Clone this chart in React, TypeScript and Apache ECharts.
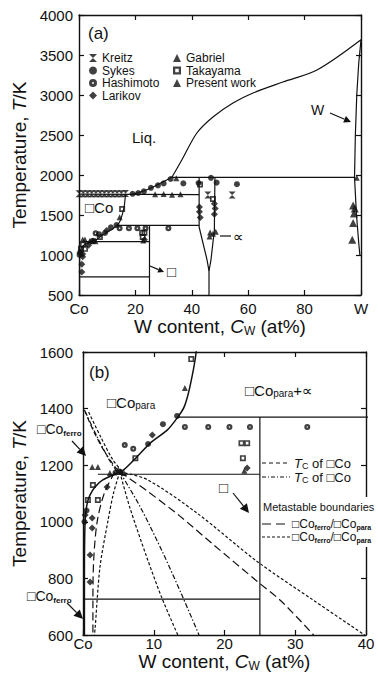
import React, { useEffect, useRef } from "react";
import * as echarts from "echarts";

const FONT = "'Liberation Sans', Arial, 'DejaVu Sans', sans-serif";
const INK = "#111";

// ---------- tick labels ----------
const A_X_LABELS: Record<number, string> = { 0: "Co", 20: "20", 40: "40", 60: "60", 80: "80", 100: "W" };
const B_X_LABELS: Record<number, string> = { 0: "Co", 10: "10", 20: "20", 30: "30", 40: "40" };

// ---------- phase boundaries (C_W at%, T K) ----------
const EUTECTIC = [[0, 1760], [42.6, 1755]];
const LIQUIDUS_LOW = [[19, 1758], [24, 1815], [29, 1900], [33, 1975]];
const LIQUIDUS_HIGH = [[33, 1975], [36.5, 2190], [41.8, 2525], [47.5, 2725], [54.6, 2900], [61.7, 3025], [72.3, 3162], [84.4, 3312], [100, 3690]];
const PERITECTIC = [[33, 1970], [97.7, 1970]];
const W_SOLIDUS = [[100, 3690], [99.2, 3400], [98.5, 3000], [98, 2500], [97.7, 1970], [98.4, 1500], [99.2, 1150], [99.6, 1000]];
const MU_LEFT = [[42.6, 1970], [42.6, 1350], [45.4, 940], [46.1, 800]];
const MU_RIGHT = [[48.2, 1970], [48, 1310], [46.8, 940], [46.1, 800]];
const MU_STEM = [[46.1, 800], [46.1, 500]];
const CO_SOLVUS = [[16.5, 1760], [16, 1600], [15.1, 1476], [14.3, 1406], [13.4, 1370], [11.9, 1324], [9.5, 1278], [7.6, 1229], [5.7, 1183], [2.8, 1148], [1.7, 1123], [1, 1095], [0.6, 1066], [0.3, 1006], [0.2, 800], [0.2, 500]];
const LINE_1370 = [[13.4, 1370], [42.6, 1370]];
const LINE_1168 = [[2.1, 1168], [25, 1168]];
const LINE_727 = [[0, 727], [25, 727]];
const CO3W = [[25, 500], [25, 1370]];

// magnetic / metastable boundaries (panel b)
const TC_ALPHA = [[0.2, 1395], [1.5, 1320], [3, 1250], [4.5, 1195], [5.2, 1176]];
const TC_EPS = [[0.3, 1390], [2, 1300], [3.8, 1215], [4.8, 1178]];
const MS_UP = [[0.8, 1388], [2.5, 1300], [4.2, 1220], [5.6, 1176]];
const MS_1 = [[5.2, 1176], [6.6, 1052], [9.0, 876], [11.1, 734], [13.4, 600]];
const MS_2 = [[5.2, 1176], [8.1, 1052], [11.3, 890], [14.1, 734], [16.4, 600]];
const MS_3 = [[5.2, 1176], [9, 1110], [13.7, 1020], [18.4, 920], [24.6, 790], [28, 720], [32.6, 600]];
const MS_4 = [[5.2, 1176], [9, 1150], [16.1, 1031], [24.6, 860], [32.5, 724], [39.8, 600]];
const MS_5 = [[5.2, 1176], [4.3, 1100], [3.5, 1000], [2.4, 840], [1.7, 620], [1.6, 600]];
const MS_6 = [[4.5, 1176], [3, 1100], [2, 1000], [1.5, 860], [1.4, 700], [1.4, 600]];

// ---------- experimental points ----------
const KREITZ = [[0, 1765], [1.5, 1765], [3, 1765], [4.5, 1765], [6, 1765], [7.5, 1765], [9, 1765], [10.5, 1765], [12, 1765], [13.5, 1765], [15, 1765], [16.5, 1768], [45.7, 1750], [54.3, 1750]];
const SYKES = [[19, 1765], [21, 1775], [23, 1795], [25.5, 1840], [28, 1870], [30, 1895], [32.5, 1950], [37, 1895], [42.4, 1900], [46.8, 1965], [48.8, 1905], [56, 1885], [13.3, 1374], [11.3, 1345], [9.2, 1275], [4.6, 1174], [5.3, 1176], [0.2, 1000], [0.5, 1040]];
const HASHIMOTO = [[5.9, 1271], [7.1, 1258], [14.4, 1335], [17.7, 1335], [20.7, 1335], [23.6, 1335], [31.7, 1335]];
const LARIKOV = [[1.3, 1013], [1.3, 978], [1.0, 883], [1.0, 787], [3.4, 1123], [9.8, 1307], [23.2, 1190], [0.3, 1024], [42.7, 1600], [42.7, 1540], [43, 1470], [48, 1640], [48.3, 1580], [48, 1510]];
const GABRIEL = [[97.2, 1620], [97.8, 1580], [97.5, 1520], [97.2, 1400], [96.9, 1190]];
const TAKAYAMA = [[15.3, 1575], [7.4, 1225], [1.4, 1130], [0.7, 1077], [2.1, 1077], [22.6, 1225], [23.2, 1278], [22.4, 1278], [42.9, 1880], [47.5, 1700]];
const PRESENT = [[14.4, 1473], [2.1, 1194], [1.3, 1194], [3.8, 1172], [5.8, 1172], [5, 1185], [22.8, 1180], [46.5, 1280], [47.5, 1265], [48.5, 1290], [46.3, 1230], [27, 1760], [30, 1762], [33, 1752], [36, 1760], [98.5, 1965], [34.5, 1960]];

const HOURGLASS = "path://M0,0L10,0L0,10L10,10Z";
const RING = "path://M5,0A5,5,0,1,1,5,10A5,5,0,1,1,5,0ZM5,3.8A1.2,1.2,0,1,0,5,6.2A1.2,1.2,0,1,0,5,3.8Z";
const OPEN_SQ = "path://M0,0H10V10H0ZM2.8,2.8V7.2H7.2V2.8Z";

const SOURCES = [
  { name: "Kreitz", data: KREITZ, symbol: HOURGLASS, size: 7 },
  { name: "Sykes", data: SYKES, symbol: "circle", size: 6 },
  { name: "Hashimoto", data: HASHIMOTO, symbol: RING, size: 6 },
  { name: "Larikov", data: LARIKOV, symbol: "diamond", size: 7 },
  { name: "Gabriel", data: GABRIEL, symbol: "triangle", size: 8 },
  { name: "Takayama", data: TAKAYAMA, symbol: OPEN_SQ, size: 6 },
  { name: "Present work", data: PRESENT, symbol: "triangle", size: 6 },
];

function lineSeries(data: number[][], g: number, type: any = "solid", width = 1.2, smooth: number | boolean = false) {
  return {
    type: "line",
    data,
    xAxisIndex: g * 2,
    yAxisIndex: g * 2,
    showSymbol: false,
    symbol: "none",
    smooth,
    silent: true,
    z: 3,
    lineStyle: { color: INK, width, type },
  };
}

function arrow(x1: number, y1: number, x2: number, y2: number, head = 7, w = 3.5) {
  const a = Math.atan2(y2 - y1, x2 - x1);
  const bx = x2 - head * Math.cos(a);
  const by = y2 - head * Math.sin(a);
  const px = -Math.sin(a) * w;
  const py = Math.cos(a) * w;
  return [
    { type: "line", z: 100, shape: { x1, y1, x2: bx, y2: by }, style: { stroke: INK, lineWidth: 1.2 } },
    { type: "polygon", z: 100, shape: { points: [[x2, y2], [bx + px, by + py], [bx - px, by - py]] }, style: { fill: INK } },
  ];
}

function txt(x: number, y: number, text: string, size: number, extra: any = {}) {
  return {
    type: "text",
    x,
    y,
    z: 100,
    style: { text, fontSize: size, fontFamily: FONT, fill: INK, align: "left", verticalAlign: "middle", ...extra },
  };
}

function sub(main: number, s: number, lh: number) {
  return {
    m: { fontSize: main, fontFamily: FONT, fill: INK, lineHeight: lh },
    i: { fontSize: main, fontFamily: FONT, fill: INK, lineHeight: lh, fontStyle: "italic" },
    s: { fontSize: s, fontFamily: FONT, fill: INK, verticalAlign: "bottom" },
    b: { fontSize: s, fontFamily: FONT, fill: INK, verticalAlign: "bottom", fontWeight: "bold" },
  };
}

function legLine(x1: number, x2: number, y: number, dash: number[]) {
  return { type: "line", z: 100, shape: { x1, y1: y, x2, y2: y }, style: { stroke: INK, lineWidth: 1.2, lineDash: dash } };
}

const axisBase = {
  type: "value",
  axisLine: { show: true, onZero: false, lineStyle: { color: INK, width: 1.4 } },
  axisTick: { show: true, inside: true, length: 5, lineStyle: { color: INK, width: 1.2 } },
  splitLine: { show: false },
};

const nameRich = {
  n: { fontSize: 19, fontFamily: FONT, color: INK, lineHeight: 22 },
  i: { fontSize: 19, fontFamily: FONT, color: INK, lineHeight: 22, fontStyle: "italic" },
  s: { fontSize: 12, fontFamily: FONT, color: INK, verticalAlign: "bottom" },
};

export default function App() {
  const ref = useRef<HTMLDivElement>(null);
  useEffect(() => {
    if (!ref.current) return;
    const chart = echarts.init(ref.current, null, { renderer: "svg" });
    const labelStyle = { color: INK, fontSize: 15, fontFamily: FONT };
    const plain = (v: number) => String(v);

    const series: any[] = [];
    // panel a boundaries
    [EUTECTIC, PERITECTIC, MU_LEFT, MU_RIGHT, MU_STEM, W_SOLIDUS, LINE_1370, LINE_1168, LINE_727, CO3W].forEach((d) =>
      series.push(lineSeries(d, 0))
    );
    series.push(lineSeries(LIQUIDUS_LOW, 0, "solid", 1.2, 0.3));
    series.push(lineSeries(LIQUIDUS_HIGH, 0, "solid", 1.2, 0.3));
    series.push(lineSeries(CO_SOLVUS, 0, "solid", 1.2, 0.2));
    // panel b boundaries
    [LINE_1370, LINE_1168, LINE_727, CO3W].forEach((d) => series.push(lineSeries(d, 1)));
    series.push(lineSeries(CO_SOLVUS, 1, "solid", 1.5, 0.2));
    series.push(lineSeries(TC_ALPHA, 1, [5, 3], 1.2, 0.3));
    series.push(lineSeries(TC_EPS, 1, [5, 2, 1.5, 2], 1.2, 0.3));
    series.push(lineSeries(MS_UP, 1, [3, 2], 1.2, 0.3));
    series.push(lineSeries(MS_1, 1, [3, 2], 1.2, 0.3));
    series.push(lineSeries(MS_2, 1, [5, 2, 1.5, 2], 1.2, 0.3));
    series.push(lineSeries(MS_3, 1, [8, 4], 1.2, 0.3));
    series.push(lineSeries(MS_4, 1, [3, 2], 1.2, 0.3));
    series.push(lineSeries(MS_5, 1, [3, 2], 1.2, 0.3));
    series.push(lineSeries(MS_6, 1, [8, 4], 1.2, 0.3));

    [0, 1].forEach((g) =>
      SOURCES.forEach((s) =>
        series.push({
          type: "scatter",
          name: s.name,
          data: s.data,
          xAxisIndex: g * 2,
          yAxisIndex: g * 2,
          symbol: s.symbol,
          symbolSize: s.size,
          clip: true,
          z: 4,
          itemStyle: { color: INK },
        })
      )
    );

    const graphic: any[] = [
      // panel a
      txt(88, 33, "(a)", 17),
      txt(132, 137, "Liq.", 15),
      txt(85, 207, "□Co", 15),
      txt(311, 110, "W", 14),
      ...arrow(330, 113, 351, 122, 7, 3.5),
      { type: "line", z: 100, shape: { x1: 220, y1: 236, x2: 231, y2: 236 }, style: { stroke: INK, lineWidth: 1.2 } },
      txt(233, 236, "∝", 15),
      ...arrow(150, 266, 164, 272, 6, 3),
      txt(167, 271, "□", 15),
      // panel b
      txt(89, 372, "(b)", 17),
      txt(107, 402, "{m|□Co}{s|para}", 15, { rich: sub(15, 10, 17) }),
      txt(245, 390, "{m|□Co}{s|para}{m|+∝}", 15, { rich: sub(15, 10, 17) }),
      txt(37, 429, "{m|□Co}{b|ferro}", 14, { rich: sub(14, 8, 16) }),
      ...arrow(72, 441, 86, 456, 9, 4.5),
      txt(27, 596, "{m|□Co}{b|ferro}", 14, { rich: sub(14, 8, 16) }),
      ...arrow(67, 603, 83, 619, 9, 4.5),
      txt(219, 487, "□", 15),
      ...arrow(233, 493, 249, 513, 9, 4.5),
      legLine(262, 290, 463, [4, 3]),
      txt(294, 463, "{i|T}{s|C}{m| of □Co}", 13, { rich: sub(13, 9, 15) }),
      legLine(262, 290, 477, [4, 2, 1, 2]),
      txt(294, 477, "{i|T}{s|C}{m| of □Co}", 13, { rich: sub(13, 9, 15) }),
      { type: "rect", z: 90, shape: { x: 261, y: 497, width: 117, height: 50 }, style: { fill: "#fff" } },
      txt(263, 507, "Metastable boundaries", 11),
      legLine(262, 290, 524, [9, 5]),
      txt(292, 524, "{m|□Co}{b|ferro}{m|/□Co}{b|para}", 12, { rich: sub(12, 7, 14) }),
      legLine(262, 290, 537, [3, 2]),
      txt(292, 537, "{m|□Co}{b|ferro}{m|/□Co}{b|para}", 12, { rich: sub(12, 7, 14) }),
    ];

    chart.setOption({
      animation: false,
      backgroundColor: "#fff",
      textStyle: { fontFamily: FONT },
      grid: [
        { left: 79, top: 15, width: 282, height: 280 },
        { left: 83, top: 352, width: 283, height: 283 },
      ],
      legend: [
        {
          orient: "vertical",
          left: 84,
          top: 47,
          itemWidth: 8,
          itemHeight: 8,
          itemGap: 0.5,
          selectedMode: false,
          textStyle: { fontSize: 12, fontFamily: FONT, color: INK },
          data: ["Kreitz", "Sykes", "Hashimoto", "Larikov"],
        },
        {
          orient: "vertical",
          left: 168,
          top: 47,
          itemWidth: 8,
          itemHeight: 8,
          itemGap: 0.5,
          selectedMode: false,
          textStyle: { fontSize: 12, fontFamily: FONT, color: INK },
          data: ["Gabriel", "Takayama", "Present work"],
        },
      ],
      xAxis: [
        {
          ...axisBase,
          gridIndex: 0,
          position: "bottom",
          min: 0,
          max: 100,
          interval: 20,
          axisLabel: { ...labelStyle, margin: 6, formatter: (v: number) => A_X_LABELS[v] ?? "" },
          name: "{n|W content, }{i|C}{s|W}{n| (at%)}",
          nameLocation: "middle",
          nameGap: 20,
          nameTextStyle: { rich: nameRich },
        },
        { ...axisBase, gridIndex: 0, position: "top", min: 0, max: 100, interval: 20, axisLabel: { show: false } },
        {
          ...axisBase,
          gridIndex: 1,
          position: "bottom",
          min: 0,
          max: 40,
          interval: 10,
          axisLabel: { ...labelStyle, margin: 1, formatter: (v: number) => B_X_LABELS[v] ?? "" },
          name: "{n|W content, }{i|C}{s|W}{n| (at%)}",
          nameLocation: "middle",
          nameGap: 15,
          nameTextStyle: { rich: nameRich },
        },
        { ...axisBase, gridIndex: 1, position: "top", min: 0, max: 40, interval: 10, axisLabel: { show: false } },
      ],
      yAxis: [
        {
          ...axisBase,
          gridIndex: 0,
          position: "left",
          min: 500,
          max: 4000,
          interval: 500,
          axisLabel: { ...labelStyle, margin: 6, formatter: plain },
          name: "{n|Temperature, }{i|T}{n|/K}",
          nameLocation: "middle",
          nameGap: 45,
          nameTextStyle: { rich: nameRich },
        },
        { ...axisBase, gridIndex: 0, position: "right", min: 500, max: 4000, interval: 500, axisLabel: { show: false } },
        {
          ...axisBase,
          gridIndex: 1,
          position: "left",
          min: 600,
          max: 1600,
          interval: 200,
          axisLabel: { ...labelStyle, margin: 10, formatter: plain },
          name: "{n|Temperature, }{i|T}{n|/K}",
          nameLocation: "middle",
          nameGap: 49,
          nameTextStyle: { rich: nameRich },
        },
        { ...axisBase, gridIndex: 1, position: "right", min: 600, max: 1600, interval: 200, axisLabel: { show: false } },
      ],
      series,
      graphic,
    });
    return () => chart.dispose();
  }, []);

  return <div ref={ref} style={{ position: "fixed", left: 0, top: 0, width: 378, height: 675, background: "#fff" }} />;
}
